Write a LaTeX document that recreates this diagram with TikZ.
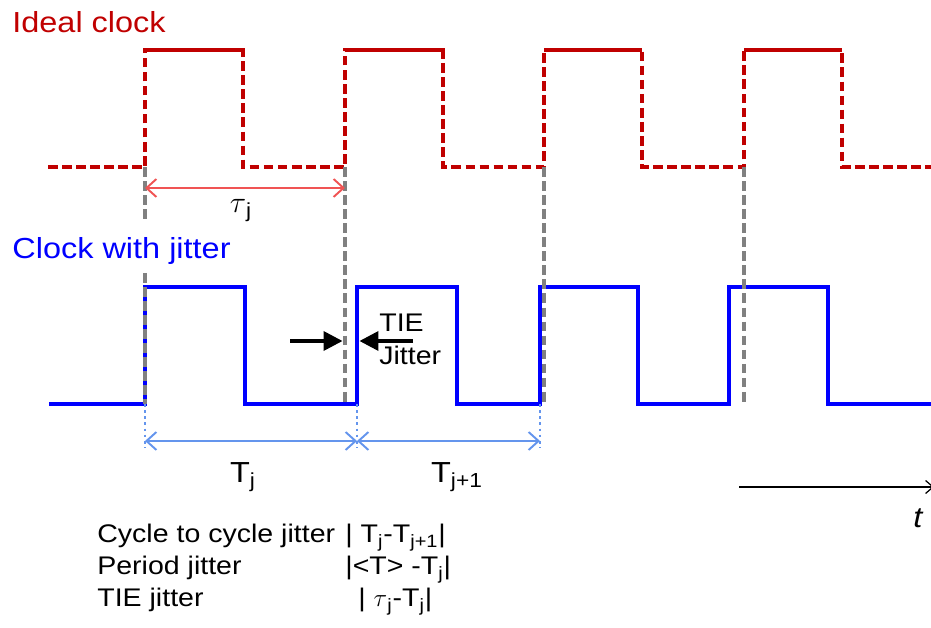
\documentclass[tikz,border=0pt]{standalone}
\usepackage{fontspec}
\setmainfont{Liberation Sans}[FakeStretch=1.12]
\usepackage{xcolor}
\usepackage{tikz}
\usetikzlibrary{arrows.meta, positioning, calc}

\definecolor{idealred}{RGB}{192,0,0}
\definecolor{jitblue}{RGB}{0,0,255}
\definecolor{lightred}{RGB}{240,84,84}
\definecolor{lightblue}{RGB}{100,149,237}

\begin{document}
\begin{tikzpicture}[
    x=0.02cm, y=-0.02cm,
    every node/.style={inner sep=0pt, font=\fontsize{14.5}{17}\selectfont},
    title/.style={anchor=base west, font=\fontsize{16.5}{19}\selectfont},
    biglabel/.style={anchor=base, font=\fontsize{16.5}{19}\selectfont},
    legend/.style={anchor=base west},
    idealhi/.style={draw=idealred, line width=2.2pt},
    ideallo/.style={draw=idealred, line width=2.2pt, dash pattern=on 5.5pt off 2.5pt},
    jitwave/.style={draw=jitblue, line width=2.3pt},
    guide/.style={draw=gray, line width=2pt, dash pattern=on 5.5pt off 2.5pt},
    marker/.style={draw=lightblue, line width=1.5pt, dash pattern=on 1.5pt off 2pt},
    period/.style={{Straight Barb[length=2mm,width=3.6mm]}-{Straight Barb[length=2mm,width=3.6mm]}, line width=1.1pt},
    tiearrow/.style={-{Triangle[length=3.8mm,width=3.8mm]}, line width=2pt}
]
\useasboundingbox (0,0) rectangle (931,628);

% Edge points
\coordinate (id1) at (145,167);
\coordinate (id2) at (345,167);
\coordinate (id3) at (544,167);
\coordinate (id4) at (744,167);
\coordinate (jt1) at (145,404);
\coordinate (jt2) at (357,404);
\coordinate (jt3) at (540,404);

% Ideal clock
\draw[ideallo] (48,167) \foreach \x in {145,345,544,744} { -- (\x,167) -- (\x,50) -- (\x+98,50) -- (\x+98,167) } -- (931,167);
\foreach \x in {145,345,544,744}
    \draw[idealhi] (\x,50) -- (\x+98,50);

% Clock with jitter
\draw[jitwave] (49,404) \foreach \r/\f in {145/245, 357/457, 540/638, 729/828} { -- (\r,404) -- (\r,287) -- (\f,287) -- (\f,404) } -- (931,404);

% Guide lines from ideal edges
\draw[guide] (id1) -- ++(0,53);
\draw[guide] (145,273) -- (jt1);
\draw[guide] (id2) -- (id2 |- jt1);
\draw[guide] (id3) -- (id3 |- jt1);
\draw[guide] (id4) -- (id4 |- jt1);

% Ideal period
\draw[period, lightred] ($(id1)+(0,21)$) -- ($(id2)+(0,21)$);
\node[biglabel] (taulbl) at (241,213) {$\tau$\textsubscript{j}};

% Jitter periods
\foreach \k in {1,2,3}
    \draw[marker] (jt\k) -- ++(0,44);
\draw[period, lightblue] ($(jt1)+(0,37)$) -- ($(jt2)+(0,37)$);
\draw[period, lightblue] ($(jt2)+(0,37)$) -- ($(jt3)+(0,37)$);
\node[biglabel] (tj) at (243,483) {T\textsubscript{j}};
\node[biglabel] (tjnext) at (457,483) {T\textsubscript{j+1}};

% TIE jitter
\coordinate (tieL) at (290,341);
\coordinate (tieR) at (413,341);
\draw[tiearrow, shorten >=1.4pt] (tieL) -- (tieL -| id2);
\draw[tiearrow, shorten >=1.4pt] (tieR) -- (tieR -| jt2);
\node[legend] (tie) at (379,332) {TIE};
\node[legend] (tiejit) at (379,365) {Jitter};

% Titles
\node[title, text=idealred] (idealtitle) at (12,33) {Ideal clock};
\node[title, text=jitblue] (jittitle) at (12,259) {Clock with jitter};

% Time axis
\coordinate (t0) at (739,487);
\coordinate (t1) at (934,487);
\draw[-{Straight Barb[length=1.5mm,width=2.6mm]}, line width=0.7pt] (t0) -- (t1);
\node[biglabel] (tlbl) at (918,528) {\itshape t};

% Definitions
\node[legend] (c2c) at (97,543) {Cycle to cycle jitter};
\node[legend] (c2cval) at (345,543) {| T\textsubscript{j}-T\textsubscript{j+1}|};
\node[legend] (per) at (97,575) {Period jitter};
\node[legend] (perval) at (345,575) {|<T> -T\textsubscript{j}|};
\node[legend] (tiedef) at (97,607) {TIE jitter};
\node[legend] (tieval) at (358,607) {| $\tau$\textsubscript{j}-T\textsubscript{j}|};

\end{tikzpicture}
\end{document}
